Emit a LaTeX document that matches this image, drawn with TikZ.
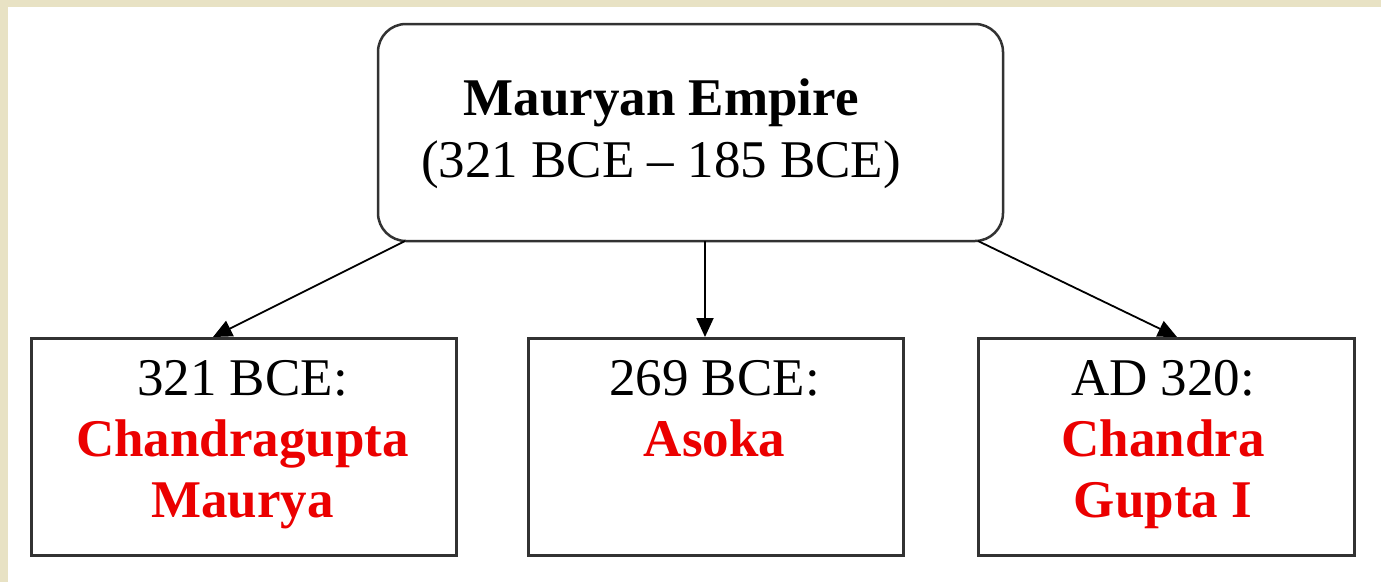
\documentclass[tikz,border=0pt]{standalone}
\usepackage{fontspec}
\setmainfont{Liberation Serif}
\usetikzlibrary{arrows.meta}
\definecolor{parch}{RGB}{232,226,196}
\definecolor{boxline}{RGB}{50,50,50}
\definecolor{redtxt}{RGB}{235,0,0}
\tikzset{
  topbox/.style={draw=boxline, line width=2.5pt, rounded corners=28pt, fill=white},
  leafbox/.style={draw=boxline, line width=2.5pt, fill=white},
  txt/.style={inner sep=0pt, anchor=base, font=\fontsize{53}{62}\selectfont},
  conn/.style={draw=black, line width=1.8pt, -{Triangle[length=19pt,width=17pt]}}
}
\begin{document}
\begin{tikzpicture}[x=1pt,y=-1pt]
\useasboundingbox (0,0) rectangle (1381,582);
\fill[parch] (0,0) rectangle (1381,582);
\fill[white] (8,7) rectangle (1381,582);
% boxes
\draw[topbox] (378,24) rectangle (1003,241);
\coordinate (tl) at (405,241);
\coordinate (tm) at (705,241);
\coordinate (tr) at (978,241);
\node[leafbox, minimum width=425pt, minimum height=217pt, anchor=north west, inner sep=0pt] (b1) at (30,337) {};
\node[leafbox, minimum width=375pt, minimum height=217pt, anchor=north west, inner sep=0pt] (b2) at (527,337) {};
\node[leafbox, minimum width=376pt, minimum height=217pt, anchor=north west, inner sep=0pt] (b3) at (977,337) {};
\coordinate (e1) at (213,337);
\coordinate (e2) at (705,337);
\coordinate (e3) at (1177,337);
% connectors
\draw[conn] (tl) -- (e1);
\draw[conn] (tm) -- (e2);
\draw[conn] (tr) -- (e3);
% texts
\node[txt] (t1) at (661,115) {\textbf{Mauryan Empire}};
\node[txt] (t2) at (661,177) {(321 BCE – 185 BCE)};
\node[txt] (a1) at (242.5,395) {321 BCE:};
\node[txt, text=redtxt] (a2) at (242.5,456) {\textbf{Chandragupta}};
\node[txt, text=redtxt] (a3) at (242.5,517) {\textbf{Maurya}};
\node[txt] (m1) at (714.5,395) {269 BCE:};
\node[txt, text=redtxt] (m2) at (714.5,456) {\textbf{Asoka}};
\node[txt] (r1) at (1163,395) {AD 320:};
\node[txt, text=redtxt] (r2) at (1163,456) {\textbf{Chandra}};
\node[txt, text=redtxt] (r3) at (1163,517) {\textbf{Gupta I}};
\end{tikzpicture}
\end{document}
